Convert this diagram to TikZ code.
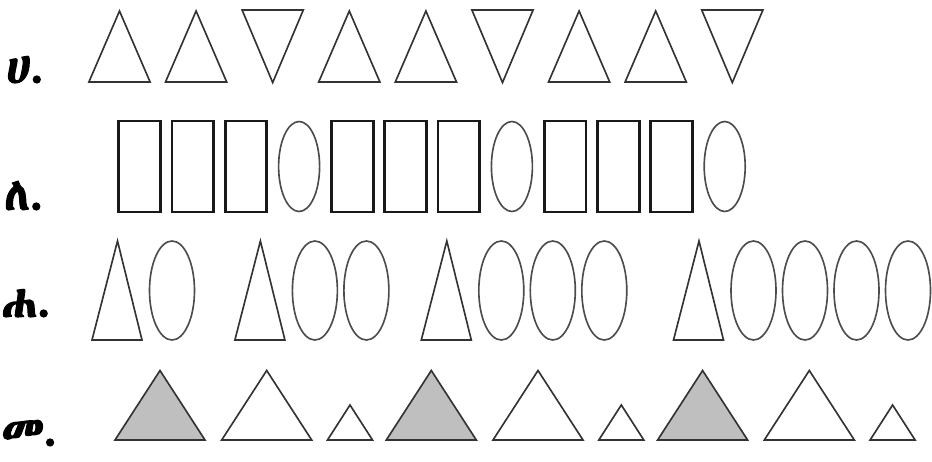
\documentclass[tikz,border=0pt]{standalone}
\usepackage{fontspec}
\newfontfamily\ethfont{Abyssinica SIL}[FakeBold=2.5]
\usepackage{tikz}

\tikzset{
  lbl/.style={anchor=base west,inner sep=0pt,font=\ethfont\fontsize{39}{44}\selectfont},
  shp/.style={draw=black!80,line width=1.4pt,line join=miter},
  box/.style={draw=black!90,line width=2.4pt},
  oval/.style={draw=black!70,line width=1.4pt},
}

\begin{document}
\begin{tikzpicture}[x=0.3mm,y=-0.3mm]
\useasboundingbox (0,0) rectangle (932,461);
% labels
\node[lbl] (la) at (6,83) {ሀ.};
\node[lbl] (lb) at (4,210) {ለ.};
\node[lbl] (lc) at (1,317) {ሐ.};
\node[lbl] (ld) at (1,446) {መ.};
% row 1: up, up, down
\foreach \i in {0,...,8}{
  \pgfmathsetmacro{\L}{88.9+76.6*\i}
  \pgfmathtruncatemacro{\m}{mod(\i,3)}
  \ifnum\m=2
    \draw[shp] (\L,10) -- (\L+61.2,10) -- (\L+30.6,82.6) -- cycle;
  \else
    \draw[shp] (\L,82) -- (\L+30.6,11) -- (\L+61.2,82) -- cycle;
  \fi
}
% row 2: three boxes, one oval
\foreach \i in {0,...,11}{
  \pgfmathsetmacro{\L}{118.8+53.2*\i}
  \pgfmathtruncatemacro{\m}{mod(\i,4)}
  \ifnum\m=3
    \draw[oval] (\L+20.7,166.5) ellipse[x radius=20.5,y radius=45];
  \else
    \draw[box] (\L,121) rectangle (\L+41.5,212);
  \fi
}
% row 3: triangle and growing number of ovals
\foreach \L/\n in {92/1,234.9/2,421.3/3,673.5/4}{
  \draw[shp] (\L,340) -- (\L+25.5,241) -- (\L+50,340) -- cycle;
  \foreach \k in {1,...,\n}
    \draw[oval] (\L+80+51.5*\k-51.5,290.5) ellipse[x radius=22.5,y radius=49.5];
}
% row 4: grey big, white big, small
\foreach \j in {0,1,2}{
  \pgfmathsetmacro{\A}{160+271.3*\j}
  \draw[shp,fill=black!25] (\A-45,440) -- (\A,370.5) -- (\A+45,440) -- cycle;
  \draw[shp] (\A+106.7-45,440) -- (\A+106.7,370.5) -- (\A+106.7+45,440) -- cycle;
  \draw[shp] (\A+190-22.5,440) -- (\A+190,405) -- (\A+190+22.5,440) -- cycle;
}
\end{tikzpicture}
\end{document}
